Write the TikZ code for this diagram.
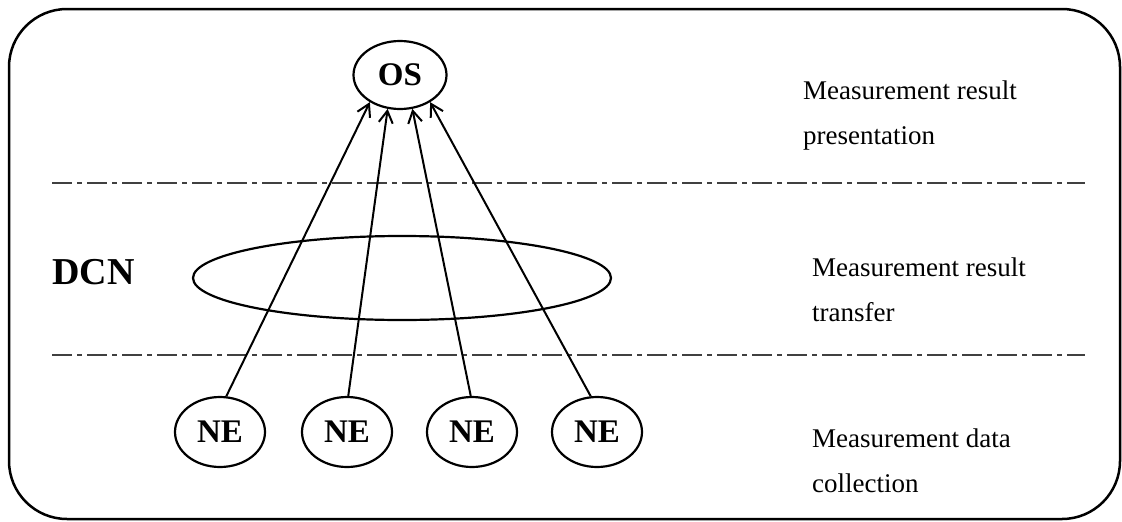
\documentclass[tikz,border=0pt]{standalone}
\usepackage{fontspec}
\setmainfont{Liberation Serif}
\usetikzlibrary{shapes.geometric,arrows.meta}
\begin{document}
\begin{tikzpicture}[x=1pt,y=-1pt,
  ell/.style={draw,ellipse,line width=2.2pt,inner sep=0pt},
  lbl/.style={font=\fontsize{27}{45}\selectfont,align=left,anchor=west,inner sep=0pt},
  bold/.style={font=\fontsize{33}{35}\selectfont\bfseries},
  sep/.style={line width=1.2pt,black!75,dash pattern=on 20pt off 5pt on 5pt off 5pt},
  conn/.style={line width=2pt,-{Straight Barb[length=12pt,width=14pt,line width=2pt]}}]
\useasboundingbox (0,0) rectangle (1122,522);
\draw[line width=2.5pt,rounded corners=58pt] (9,9) rectangle (1120,519);
\coordinate (s1a) at (52,183); \coordinate (s1b) at (1085,183);
\coordinate (s2a) at (52,355); \coordinate (s2b) at (1085,355);
\draw[sep] (s1a) -- (s1b);
\draw[sep] (s2a) -- (s2b);
\node[ell,bold,minimum width=93pt,minimum height=68pt] (os) at (400,75) {OS};
\node[ell,minimum width=418pt,minimum height=84pt] (dcn) at (402,278) {};
\node[bold,anchor=west,inner sep=0pt,font=\fontsize{38}{40}\selectfont\bfseries] (dcnl) at (52,272) {DCN};
\foreach \i/\x in {1/220,2/347,3/472,4/597}
  \node[ell,bold,minimum width=90pt,minimum height=70pt] (ne\i) at (\x,432) {NE};
\draw[conn] (ne1.80) -- (os.222);
\draw[conn] (ne2.88) -- (os.250);
\draw[conn] (ne3.92) -- (os.290);
\draw[conn] (ne4.100) -- (os.318);
\node[lbl] (t1) at (803,116) {Measurement result\\presentation};
\node[lbl] (t2) at (812,290) {Measurement result\\transfer};
\node[lbl] (t3) at (812,461) {Measurement data\\collection};
\end{tikzpicture}
\end{document}
